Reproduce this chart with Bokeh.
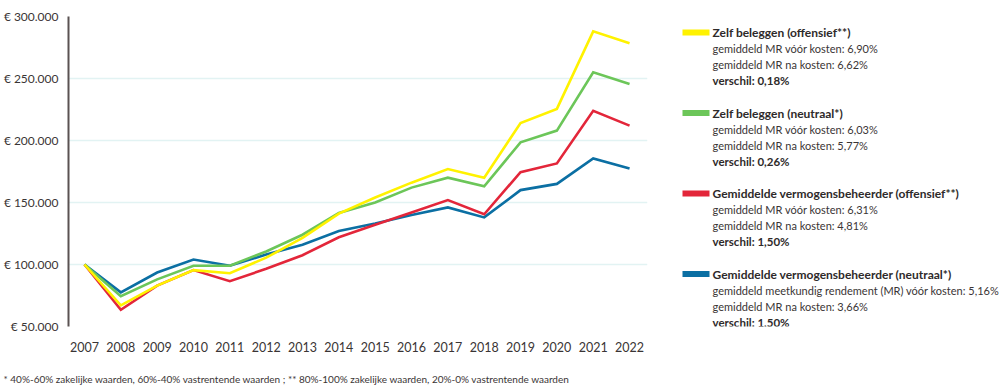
from bokeh.plotting import figure
from bokeh.models import Range1d, FixedTicker
from bokeh.layouts import row, column
from bokeh.embed import file_html
from bokeh.resources import INLINE
from bokeh.core.properties import value

years = list(range(2007, 2023))
zelf_offensief = [100000, 67000, 83000, 95500, 93000, 105500, 121500, 141000, 154000, 166000, 177000, 170000, 214000, 225500, 288000, 278500]
zelf_neutraal = [100000, 74500, 88000, 99000, 99000, 110500, 124000, 141500, 150000, 162000, 170000, 163000, 198500, 208000, 255000, 245500]
gvb_offensief = [100000, 63500, 83000, 95500, 86500, 96500, 107500, 122000, 132000, 142000, 152000, 140500, 174500, 181500, 224000, 212000]
gvb_neutraal = [100000, 77500, 93500, 104000, 99000, 108000, 116000, 127000, 133000, 140000, 146000, 138000, 160000, 165000, 185500, 177500]

series_titles = ["Zelf beleggen (offensief**)", "Zelf beleggen (neutraal*)",
                 "Gemiddelde vermogensbeheerder (offensief**)", "Gemiddelde vermogensbeheerder (neutraal*)"]
series_line1 = ["gemiddeld MR vóór kosten: 6,90%", "gemiddeld MR vóór kosten: 6,03%",
                "gemiddeld MR vóór kosten: 6,31%", "gemiddeld meetkundig rendement (MR) vóór kosten: 5,16%"]
series_line2 = ["gemiddeld MR na kosten: 6,62%", "gemiddeld MR na kosten: 5,77%",
                "gemiddeld MR na kosten: 4,81%", "gemiddeld MR na kosten: 3,66%"]
series_line3 = ["verschil: 0,18%", "verschil: 0,26%", "verschil: 1,50%", "verschil: 1,50%"]
series_colors = ["#fff200", "#6cc659", "#e3263a", "#0b6fa3"]

y_ticks = [50000, 100000, 150000, 200000, 250000, 300000]
y_tick_labels = ["€ 50.000", "€ 100.000", "€ 150.000", "€ 200.000", "€ 250.000", "€ 300.000"]
footnote = "* 40%-60% zakelijke waarden, 60%-40% vastrentende waarden ; ** 80%-100% zakelijke waarden, 20%-0% vastrentende waarden"

FONT = "Lato"
TXT = "#3a3535"
BOLD_TXT = "#2e2a2a"

p = figure(width=668, height=363, output_backend="svg", toolbar_location=None,
           x_range=Range1d(2006.56, 2022.494), y_range=Range1d(50000, 300000),
           min_border_left=67, min_border_right=21, min_border_top=16, min_border_bottom=37)
p.outline_line_color = None
p.background_fill_color = "white"
p.border_fill_color = "white"

p.xgrid.grid_line_color = None
p.ygrid.grid_line_color = "#e2f3f3"
p.ygrid.grid_line_width = 1.5
p.ygrid.ticker = FixedTicker(ticks=y_ticks)

p.yaxis.ticker = FixedTicker(ticks=y_ticks)
p.yaxis.major_label_overrides = {t: l for t, l in zip(y_ticks, y_tick_labels)}
p.yaxis.major_tick_line_color = None
p.yaxis.minor_tick_line_color = None
p.yaxis.major_tick_in = 0
p.yaxis.major_tick_out = 0
p.yaxis.axis_line_color = "#5a5252"
p.yaxis.axis_line_width = 2
p.yaxis.major_label_standoff = 10
p.yaxis.major_label_text_font = FONT
p.yaxis.major_label_text_font_size = "12px"
p.yaxis.major_label_text_color = TXT

p.xaxis.ticker = FixedTicker(ticks=years)
p.xaxis.major_label_overrides = {y: str(y) for y in years}
p.xaxis.axis_line_color = None
p.xaxis.major_tick_line_color = None
p.xaxis.minor_tick_line_color = None
p.xaxis.major_tick_in = 0
p.xaxis.major_tick_out = 0
p.xaxis.major_label_standoff = 15
p.xaxis.major_label_text_font = FONT
p.xaxis.major_label_text_font_size = "12.5px"
p.xaxis.major_label_text_color = TXT

all_series = [zelf_offensief, zelf_neutraal, gvb_offensief, gvb_neutraal]
for idx in [3, 2, 1, 0]:
    p.line(years, all_series[idx], line_color=series_colors[idx], line_width=2.6, line_join="miter")

# legend figure (y values are pixel rows of the page; frame aligned with chart frame 16..326)
lg = figure(width=332, height=363, output_backend="svg", toolbar_location=None,
            x_range=Range1d(0, 332), y_range=Range1d(326, 16),
            min_border_left=0, min_border_right=0, min_border_top=16, min_border_bottom=37)
lg.axis.visible = False
lg.grid.visible = False
lg.outline_line_color = None

group_y = [32 + 80.5 * i for i in range(4)]
lg.rect(x=[27.5] * 4, y=group_y, width=27, height=6, fill_color=series_colors, line_color=None)
lg.text(x=[44] * 4, y=group_y, text=series_titles, text_font=value(FONT), text_font_style="bold",
        text_font_size="12px", text_baseline="middle", text_color=BOLD_TXT)
lg.text(x=[44] * 4, y=[g + 16 for g in group_y], text=series_line1, text_font=value(FONT),
        text_font_size="11px", text_baseline="middle", text_color=TXT)
lg.text(x=[44] * 4, y=[g + 32 for g in group_y], text=series_line2, text_font=value(FONT),
        text_font_size="11px", text_baseline="middle", text_color=TXT)
lg.text(x=[44] * 4, y=[g + 48 for g in group_y], text=series_line3, text_font=value(FONT),
        text_font_style="bold", text_font_size="11.5px", text_baseline="middle", text_color=BOLD_TXT)

# footnote figure
fn = figure(width=1000, height=28, output_backend="svg", toolbar_location=None,
            x_range=Range1d(0, 1000), y_range=Range1d(28, 0),
            min_border=0, min_border_left=0, min_border_right=0, min_border_top=0, min_border_bottom=0)
fn.axis.visible = False
fn.grid.visible = False
fn.outline_line_color = None
fn.text(x=[3], y=[15], text=[footnote], text_font=value(FONT), text_font_size="10px",
        text_baseline="middle", text_color=TXT)

layout = column(row(p, lg, spacing=0), fn, spacing=0)
open("out.html", "w").write(file_html(layout, INLINE))
